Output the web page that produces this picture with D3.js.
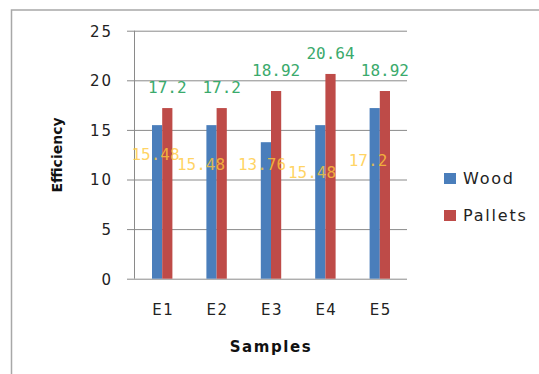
<!DOCTYPE html>
<html>
<head>
<meta charset="utf-8">
<script src="https://cdn.jsdelivr.net/npm/d3@7"></script>
<style>
  html, body { margin: 0; padding: 0; background: #fff; }
  svg { display: block; }
</style>
</head>
<body>
<svg id="chart" width="539" height="374"></svg>
<script>
// ---- data ----
const categories = ["E1", "E2", "E3", "E4", "E5"];
const woodValues = [15.48, 15.48, 13.76, 15.48, 17.2];
const palletValues = [17.2, 17.2, 18.92, 20.64, 18.92];
const seriesNames = ["Wood", "Pallets"];
const yTicks = [0, 5, 10, 15, 20, 25];

// ---- layout (manual label nudges of the original, not data) ----
const woodLabelDx = [-1.6, -10.5, -3.9, -8.3, -6.7];
const woodLabelDy = [34.9, 44.9, 27.8, 53, 57.9];

const colors = { Wood: "#4a7ebb", Pallets: "#be4b48" };

const svg = d3.select("#chart");

// outer chart border
svg.append("rect")
  .attr("x", 11.5).attr("y", 10)
  .attr("width", 600).attr("height", 500)
  .attr("fill", "none").attr("stroke", "#a8a8a8").attr("stroke-width", 1.5);

const plotLeft = 135, plotRight = 407, plotTop = 30.7, plotBottom = 278.7;

const y = d3.scaleLinear().domain([0, 25]).range([plotBottom, plotTop]);
const x = d3.scaleBand().domain(categories).range([plotLeft, plotRight])
  .paddingInner(0.625).paddingOuter(0.3125);
const xs = d3.scaleBand().domain(seriesNames).range([0, x.bandwidth()]);

// gridlines + ticks
const yAxis = d3.axisLeft(y).tickValues(yTicks).tickSize(-(plotRight - plotLeft)).tickPadding(0)
  .tickFormat(d3.format("d"));
const gy = svg.append("g").attr("transform", `translate(${plotLeft},0)`).call(yAxis);
gy.select(".domain").remove();
gy.selectAll(".tick line")
  .attr("x1", -8).attr("stroke", "#8a8a8a").attr("stroke-width", 1);
gy.selectAll(".tick text")
  .attr("x", -22).attr("dy", "0.36em")
  .attr("font-family", "DejaVu Sans").attr("font-size", 15)
  .attr("letter-spacing", 2).attr("fill", "#222");

// y axis line
svg.append("line")
  .attr("x1", plotLeft - 0.5).attr("x2", plotLeft - 0.5)
  .attr("y1", y(25)).attr("y2", y(0))
  .attr("stroke", "#8a8a8a").attr("stroke-width", 1);

// bars
const rows = categories.map((c, i) => ({ cat: c, Wood: woodValues[i], Pallets: palletValues[i], i }));
const groups = svg.append("g").selectAll("g").data(rows).join("g")
  .attr("transform", d => `translate(${x(d.cat)},0)`);
groups.selectAll("rect").data(d => seriesNames.map(s => ({ s, v: d[s] }))).join("rect")
  .attr("x", d => xs(d.s)).attr("width", xs.bandwidth())
  .attr("y", d => y(d.v)).attr("height", d => y(0) - y(d.v))
  .attr("fill", d => colors[d.s]);

// x axis labels
const xAxis = d3.axisBottom(x).tickSize(0).tickPadding(0);
const gx = svg.append("g").attr("transform", `translate(0,${plotBottom})`).call(xAxis);
gx.select(".domain").remove();
gx.selectAll(".tick text")
  .attr("y", 36).attr("dy", 0).attr("dx", 1)
  .attr("font-family", "DejaVu Sans").attr("font-size", 15)
  .attr("letter-spacing", 1.5).attr("fill", "#222");

// pallets data labels (green)
svg.append("g").selectAll("text").data(rows).join("text")
  .attr("x", d => x(d.cat) + xs("Pallets") + xs.bandwidth() / 2)
  .attr("y", d => y(d.Pallets) - 14.6)
  .attr("text-anchor", "middle")
  .attr("font-family", "DejaVu Sans Mono").attr("font-size", 16)
  .attr("fill", "#3aaa6c")
  .text(d => d.Pallets);

// wood data labels (yellow, semi-transparent)
svg.append("g").selectAll("text").data(rows).join("text")
  .attr("x", d => x(d.cat) + xs("Wood") + xs.bandwidth() / 2 + woodLabelDx[d.i])
  .attr("y", d => y(d.Wood) + woodLabelDy[d.i])
  .attr("text-anchor", "middle")
  .attr("font-family", "DejaVu Sans Mono").attr("font-size", 16)
  .attr("fill", "#ffc93a").attr("fill-opacity", 0.8)
  .text(d => d.Wood);

// axis titles
svg.append("text")
  .attr("transform", "translate(62,155) rotate(-90)")
  .attr("text-anchor", "middle")
  .attr("font-family", "DejaVu Sans").attr("font-weight", "bold").attr("font-size", 14)
  .attr("fill", "#111")
  .text("Efficiency");
svg.append("text")
  .attr("x", 271).attr("y", 351.7)
  .attr("text-anchor", "middle")
  .attr("font-family", "DejaVu Sans").attr("font-weight", "bold").attr("font-size", 15)
  .attr("letter-spacing", 1.6)
  .attr("fill", "#111")
  .text("Samples");

// legend
const legendY = [173, 210];
const lg = svg.append("g").selectAll("g").data(seriesNames).join("g")
  .attr("transform", (d, i) => `translate(444,${legendY[i]})`);
lg.append("rect").attr("width", 12).attr("height", 11).attr("fill", d => colors[d]);
lg.append("text").attr("x", 19).attr("y", 11.3)
  .attr("font-family", "DejaVu Sans").attr("font-size", 16)
  .attr("letter-spacing", 1.8).attr("fill", "#222")
  .text(d => d);
</script>
</body>
</html>
